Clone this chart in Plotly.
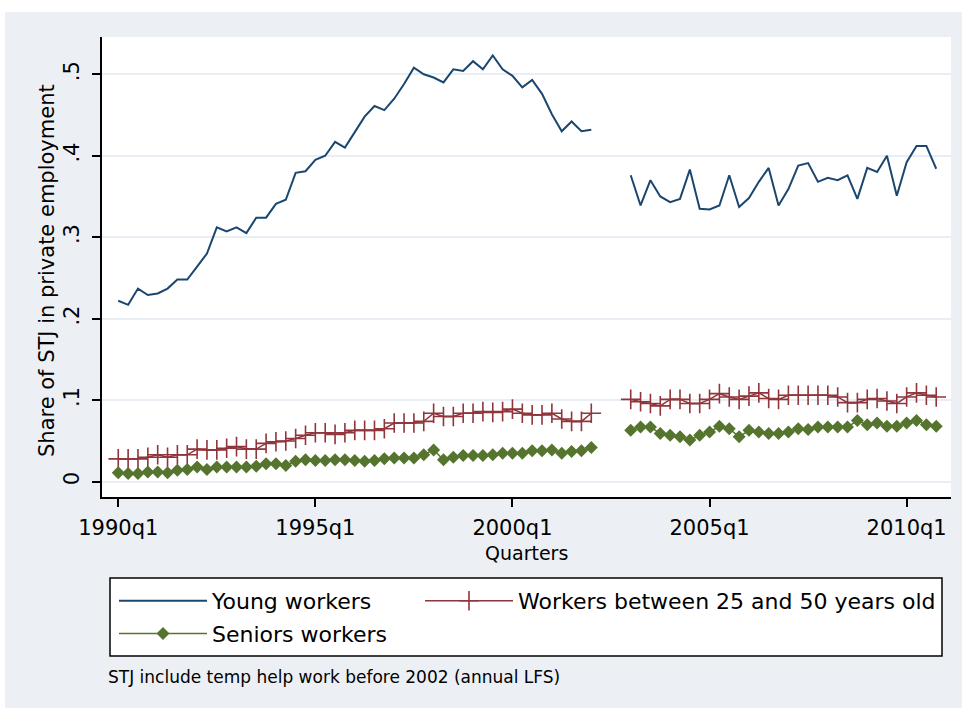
import plotly.graph_objects as go

# ---------------- data ----------------
# quarter index: 0 = 1990q1 ; first block 1990q1-2002q1, second block 2003q1-2010q4
q_first_block = list(range(0, 49))
q_second_block = list(range(52, 84))

young_a = [0.222, 0.217, 0.237, 0.229, 0.231, 0.237, 0.248, 0.248, 0.264, 0.280,
           0.312, 0.307, 0.312, 0.305, 0.324, 0.324, 0.341, 0.346, 0.379, 0.381,
           0.395, 0.400, 0.417, 0.410, 0.429, 0.448, 0.461, 0.456, 0.470, 0.488,
           0.508, 0.500, 0.496, 0.490, 0.506, 0.504, 0.516, 0.506, 0.523, 0.506,
           0.498, 0.484, 0.493, 0.476, 0.451, 0.430, 0.442, 0.430, 0.432]
young_b = [0.376, 0.339, 0.370, 0.350, 0.343, 0.347, 0.383, 0.335, 0.334, 0.339,
           0.376, 0.337, 0.348, 0.368, 0.385, 0.339, 0.359, 0.388, 0.391, 0.368,
           0.373, 0.370, 0.376, 0.347, 0.385, 0.380, 0.400, 0.351, 0.392, 0.412,
           0.412, 0.384]

mid_a = [0.028, 0.028, 0.028, 0.030, 0.033, 0.030, 0.033, 0.033, 0.040, 0.039,
         0.039, 0.041, 0.043, 0.040, 0.040, 0.047, 0.049, 0.050, 0.053, 0.057,
         0.060, 0.060, 0.058, 0.060, 0.063, 0.063, 0.063, 0.065, 0.072, 0.072,
         0.072, 0.074, 0.084, 0.080, 0.080, 0.084, 0.084, 0.086, 0.085, 0.086,
         0.089, 0.084, 0.082, 0.082, 0.084, 0.077, 0.074, 0.074, 0.084]
mid_b = [0.101, 0.098, 0.096, 0.093, 0.101, 0.101, 0.096, 0.096, 0.101, 0.108,
         0.104, 0.101, 0.105, 0.109, 0.102, 0.101, 0.106, 0.106, 0.106, 0.106,
         0.106, 0.104, 0.097, 0.097, 0.101, 0.102, 0.099, 0.096, 0.104, 0.109,
         0.106, 0.104]

senior_a = [0.011, 0.010, 0.010, 0.012, 0.012, 0.011, 0.014, 0.015, 0.018, 0.015,
            0.018, 0.018, 0.018, 0.018, 0.019, 0.022, 0.022, 0.020, 0.025, 0.027,
            0.026, 0.026, 0.027, 0.027, 0.026, 0.025, 0.026, 0.028, 0.029, 0.029,
            0.029, 0.033, 0.039, 0.027, 0.030, 0.032, 0.032, 0.032, 0.033, 0.035,
            0.035, 0.035, 0.038, 0.038, 0.039, 0.035, 0.037, 0.038, 0.042]
senior_b = [0.063, 0.067, 0.067, 0.059, 0.057, 0.055, 0.051, 0.057, 0.061, 0.068,
            0.065, 0.055, 0.063, 0.061, 0.059, 0.059, 0.061, 0.065, 0.064, 0.067,
            0.067, 0.067, 0.067, 0.075, 0.070, 0.072, 0.068, 0.068, 0.072, 0.075,
            0.070, 0.068]

series_names = ["Young workers", "Workers between 25 and 50 years old", "Seniors workers"]
x_tick_vals = [0, 20, 40, 60, 80]
x_tick_labels = ["1990q1", "1995q1", "2000q1", "2005q1", "2010q1"]
y_tick_vals = [0, 0.1, 0.2, 0.3, 0.4, 0.5]
y_tick_labels = ["0", ".1", ".2", ".3", ".4", ".5"]
x_title = "Quarters"
y_title = "Share of STJ in private employment"
note = "STJ include temp help work before 2002 (annual LFS)"

# ---------------- figure ----------------
W, H = 962, 708
FONT = "DejaVu Sans"
BG = "#ECF0F5"

def join(a, b):
    return q_first_block + [None] + q_second_block, a + [None] + b

fig = go.Figure()
x, y = join(young_a, young_b)
fig.add_trace(go.Scatter(x=x, y=y, name=series_names[0], mode="lines",
                         line=dict(color="#1A476F", width=2), connectgaps=False,
                         legend="legend", legendgroup="g1", legendrank=1))
x, y = join(mid_a, mid_b)
fig.add_trace(go.Scatter(x=x, y=y, name=series_names[1], mode="lines+markers",
                         line=dict(color="#90353B", width=1.5),
                         marker=dict(symbol="cross-thin", size=14,
                                     line=dict(color="#90353B", width=1.6)),
                         connectgaps=False, legend="legend2", legendgroup="g2"))
x, y = join(senior_a, senior_b)
fig.add_trace(go.Scatter(x=x, y=y, name=series_names[2], mode="lines+markers",
                         line=dict(color="#55752F", width=1.5),
                         marker=dict(symbol="diamond", size=10, color="#55752F"),
                         connectgaps=False, legend="legend", legendgroup="g3",
                         legendrank=2))

px_x = lambda p: p / W
px_y = lambda p: 1 - p / H

legend_common = dict(orientation="v", xanchor="left", yanchor="top",
                     bgcolor="rgba(0,0,0,0)", borderwidth=0, itemwidth=88,
                     font=dict(family=FONT, size=22, color="black"),
                     itemclick=False, itemdoubleclick=False)

fig.update_layout(
    width=W, height=H,
    margin=dict(l=0, r=0, t=0, b=0, autoexpand=False),
    paper_bgcolor=BG, plot_bgcolor="white",
    font=dict(family=FONT, size=21, color="black"),
    showlegend=True,
    legend=dict(x=px_x(114), y=px_y(580), tracegroupgap=1, **legend_common),
    legend2=dict(x=px_x(420), y=px_y(580), **legend_common),
    xaxis=dict(domain=[px_x(102), px_x(951)], range=[-1.65, 84.5], automargin=False,
               tickvals=x_tick_vals, ticktext=x_tick_labels,
               ticks="outside", ticklen=8, tickwidth=1.5, tickcolor="black",
               showline=True, linecolor="black", linewidth=1.5,
               showgrid=False, zeroline=False, ticklabelstandoff=3,
               tickfont=dict(family=FONT, size=21)),
    yaxis=dict(domain=[1 - 497 / H, 1 - 37 / H], range=[-0.0188, 0.5457], automargin=False,
               tickvals=y_tick_vals, ticktext=y_tick_labels, tickangle=-90,
               ticks="outside", ticklen=8, tickwidth=1.5, tickcolor="black",
               showline=True, linecolor="black", linewidth=1.5,
               showgrid=True, gridcolor="#E8EEF3", gridwidth=1.5, zeroline=False,
               ticklabelstandoff=5,
               tickfont=dict(family=FONT, size=21)),
    shapes=[
        dict(type="rect", xref="paper", yref="paper", x0=0, x1=1, y0=px_y(12), y1=1,
             fillcolor="white", line=dict(width=0), layer="below"),
        dict(type="rect", xref="paper", yref="paper", x0=0, x1=px_x(5), y0=0, y1=1,
             fillcolor="white", line=dict(width=0), layer="below"),
        dict(type="rect", xref="paper", yref="paper", x0=px_x(110), x1=px_x(942),
             y0=px_y(656), y1=px_y(578), fillcolor="white",
             line=dict(color="black", width=1.5), layer="above"),
    ],
    annotations=[
        dict(text=y_title, xref="paper", yref="paper", x=px_x(47), y=px_y(271),
             xanchor="center", yanchor="middle", textangle=-90, showarrow=False,
             font=dict(family=FONT, size=21)),
        dict(text=x_title, xref="paper", yref="paper", x=px_x(526.5), y=px_y(553),
             xanchor="center", yanchor="middle", showarrow=False,
             font=dict(family=FONT, size=19)),
        dict(text=note, xref="paper", yref="paper", x=px_x(106), y=px_y(677),
             xanchor="left", yanchor="middle", showarrow=False,
             font=dict(family=FONT, size=17)),
    ],
)

fig.write_html("out.html",
               config={"displayModeBar": False},
               post_script="document.body.style.margin='0';"
                           "document.body.style.overflow='hidden';")
